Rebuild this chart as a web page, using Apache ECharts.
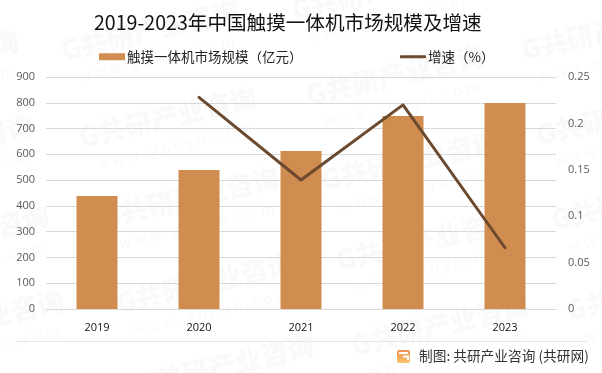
<!DOCTYPE html>
<html><head><meta charset="utf-8">
<style>html,body{margin:0;padding:0;background:#fff}#c{width:602px;height:373px}</style>
<script src="https://cdn.jsdelivr.net/npm/echarts@6/dist/echarts.min.js"></script>
</head><body><div id="c"></div>
<script>
const categories = ['2019','2020','2021','2022','2023'];
const marketSize = [438, 539, 613, 749, 799];
const growth = [null, 0.228, 0.139, 0.22, 0.066];
const titleText = '2019-2023年中国触摸一体机市场规模及增速';
const barName = '触摸一体机市场规模（亿元）';
const lineName = '增速（%）';
const sourceText = '制图: 共研产业咨询 (共研网)';
const FONT = '"Noto Sans CJK SC","Open Sans",sans-serif';
const wmSpots = [[-70,60],[-55,145],[-40,235],[-25,320],[150,30],[168,117],[190,197],[205,283],[225,365],[380,-10],[395,75],[410,160],[425,240],[440,325],[610,30],[625,115],[640,200],[655,290]];
function wm(x,y){
  const c='rgba(110,110,110,0.045)';
  return {type:'group',x:x,y:y,rotation:13*Math.PI/180,silent:true,z:0,children:[
    {type:'text',style:{text:'G共研产业咨询',x:0,y:0,align:'center',verticalAlign:'middle',font:'900 27px '+FONT,fill:c}},
    {type:'text',style:{text:'w w w . g o n y n . c o m',x:0,y:29,align:'center',verticalAlign:'middle',font:'15px '+FONT,fill:c}}
  ]};
}
const legendBase = {top:45,itemWidth:26,textStyle:{fontFamily:FONT,fontSize:13.5,color:'#222',padding:[0,0,0,-3]}};
const chart = echarts.init(document.getElementById('c'),null,{renderer:'canvas'});
chart.setOption({
  animation:false,
  backgroundColor:'#fff',
  title:{text:titleText,left:89,top:8,textStyle:{fontFamily:FONT,fontSize:19.6,fontWeight:'normal',color:'#111'}},
  legend:[
    {...legendBase,left:94,itemHeight:7,icon:'rect',data:[barName]},
    {...legendBase,left:395,itemHeight:3,icon:'roundRect',data:[lineName]}
  ],
  grid:{left:46,right:46,top:77,bottom:64},
  xAxis:{type:'category',data:categories,axisTick:{show:false},axisLine:{lineStyle:{color:'#d9d9d9',width:1}},axisLabel:{color:'#111',fontSize:11,margin:13,fontFamily:'"Open Sans",sans-serif'}},
  yAxis:[
    {type:'value',min:0,max:900,interval:100,axisLine:{show:false},axisTick:{show:false},splitLine:{lineStyle:{color:'#d9d9d9',width:1}},axisLabel:{color:'#595959',fontSize:11,margin:11,fontFamily:'"Open Sans",sans-serif'}},
    {type:'value',min:0,max:0.25,interval:0.05,axisLine:{show:false},axisTick:{show:false},splitLine:{show:false},axisLabel:{color:'#595959',fontSize:11,margin:12,fontFamily:'"Open Sans",sans-serif'}}
  ],
  series:[
    {name:barName,type:'bar',data:marketSize,barWidth:41,itemStyle:{color:'#D18C4F'},z:2},
    {name:lineName,type:'line',yAxisIndex:1,data:growth,symbol:'none',lineStyle:{color:'#6B4A2F',width:3,cap:'round',join:'round'},itemStyle:{color:'#6B4A2F'},z:3}
  ],
  graphic:[
    ...wmSpots.map(p=>wm(p[0],p[1])),
    {type:'line',silent:true,shape:{x1:15,y1:341.5,x2:587,y2:341.5},style:{stroke:'#e6e6e6',lineWidth:1}},
    {type:'rect',shape:{x:397,y:350,width:13,height:13,r:2},style:{fill:new echarts.graphic.LinearGradient(0,0,0,1,[{offset:0,color:'#EF8F4E'},{offset:1,color:'#F9C46E'}])}},
    {type:'polyline',shape:{points:[[399,353],[408,353]]},style:{stroke:'#fff',lineWidth:2,fill:null}},
    {type:'polyline',shape:{points:[[403,356.5],[408,356.5],[408,360]]},style:{stroke:'#fff',lineWidth:2,fill:null}},
    {type:'text',style:{text:sourceText,x:419,y:356,verticalAlign:'middle',font:'13.7px '+FONT,fill:'#333'}}
  ]
});
</script></body></html>
